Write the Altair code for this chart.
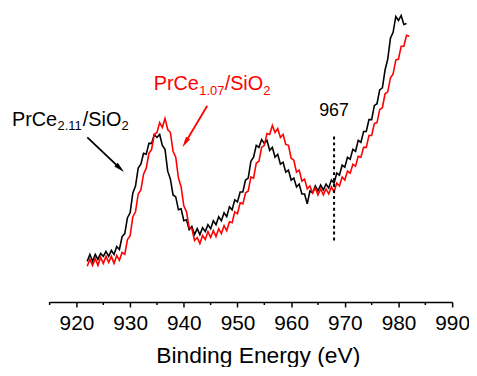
import altair as alt
import pandas as pd

# ---- data (intensity in arbitrary units) ----
E_START = 922.0
E_STEP = 0.5
black_counts = [41, 48, 41, 48, 43, 49, 46, 51, 46, 52,
                48, 56, 53, 66, 69, 85, 90, 110, 117, 135,
                139, 150, 149, 160, 160, 169, 166, 169, 158, 154,
                132, 124, 108, 106, 93, 94, 82, 83, 73, 76,
                68, 74, 68, 75, 71, 78, 74, 82, 78, 86,
                82, 90, 86, 96, 93, 103, 101, 111, 111, 123,
                125, 142, 146, 158, 156, 164, 160, 163, 153, 156,
                146, 149, 139, 141, 131, 133, 123, 125, 116, 119,
                109, 109, 99, 112, 110, 117, 112, 118, 113, 119,
                115, 123, 120, 130, 128, 138, 136, 146, 144, 154,
                152, 163, 161, 172, 172, 184, 184, 198, 200, 214,
                216, 234, 245, 266, 272, 288, 284, 289, 280, 281]
red_counts = [36, 43, 37, 44, 37, 45, 39, 46, 40, 46,
              39, 47, 42, 50, 48, 63, 67, 86, 91, 109,
              113, 129, 135, 150, 154, 169, 171, 181, 176, 185,
              174, 171, 152, 146, 125, 116, 97, 91, 75, 74,
              62, 65, 59, 67, 63, 71, 65, 72, 66, 74,
              69, 77, 72, 81, 80, 91, 89, 100, 99, 110,
              112, 126, 125, 140, 142, 156, 158, 170, 169, 178,
              171, 175, 166, 169, 159, 158, 145, 143, 131, 133,
              122, 124, 114, 117, 110, 115, 108, 114, 108, 114,
              109, 116, 111, 120, 117, 126, 123, 132, 130, 139,
              137, 147, 146, 156, 156, 168, 168, 180, 181, 194,
              196, 210, 212, 226, 230, 244, 245, 258, 258, 269,
              268]
black_energy = [E_START + E_STEP * i for i in range(len(black_counts))]
red_energy = [E_START + E_STEP * i for i in range(len(red_counts))]

major_ticks = [920, 930, 940, 950, 960, 970, 980, 990]
minor_ticks = [915, 925, 935, 945, 955, 965, 975, 985]
x_domain = [915, 990]
y_domain = [0, 295]

marker_energy = 968
marker_label = "967"
marker_span = [62, 170]

black_label_anchor = [907.98, 178]
red_label_anchor = [934.4, 214]
black_arrow = [922.02, 166, 928.12, 134.8]   # start E, I, head E, I
red_arrow = [944.37, 198, 940.27, 160.7]

W, H = 406, 295
FONT = "Liberation Sans"
BLACK = "#000000"
RED = "#ff0000"

x_enc = alt.X("E:Q", scale=alt.Scale(domain=x_domain, nice=False, zero=False),
              axis=alt.Axis(values=major_ticks, format="d", title="Binding Energy (eV)",
                            grid=False, domainColor=BLACK, domainWidth=1.5,
                            tickColor=BLACK, tickWidth=1.5, tickSize=5,
                            labelFont=FONT, labelFontSize=21, labelColor=BLACK,
                            labelBaseline="alphabetic", labelPadding=23,
                            labelFlush=False, labelOverlap=False,
                            titleFont=FONT, titleFontSize=23, titleFontWeight="normal",
                            titleColor=BLACK, titleX=210, titleY=61,
                            titleBaseline="alphabetic"))
y_enc = alt.Y("I:Q", scale=alt.Scale(domain=y_domain, nice=False, zero=False), axis=None)

black_df = pd.DataFrame({"E": black_energy, "I": black_counts})
red_df = pd.DataFrame({"E": red_energy, "I": red_counts})

black_line = alt.Chart(black_df).mark_line(color=BLACK, strokeWidth=1.6).encode(x=x_enc, y=y_enc)
red_line = alt.Chart(red_df).mark_line(color=RED, strokeWidth=1.6).encode(x=x_enc, y=y_enc)

minor = alt.Chart(pd.DataFrame({"E": minor_ticks})).mark_rule(color=BLACK, strokeWidth=1.5).encode(
    x=x_enc, y=alt.value(H), y2=alt.value(H + 3))

marker = alt.Chart(pd.DataFrame({"E": [marker_energy], "I": [marker_span[0]], "I2": [marker_span[1]]})).mark_rule(
    color=BLACK, strokeWidth=2, strokeDash=[3, 3]).encode(x=x_enc, y=y_enc, y2="I2:Q")

marker_text = alt.Chart(pd.DataFrame({"E": [marker_energy], "I": [188]})).mark_text(
    text=marker_label, font=FONT, fontSize=18, color=BLACK, align="center", baseline="alphabetic").encode(
    x=x_enc, y=y_enc)


def piece(anchor, text, color, size, dx, dy):
    return alt.Chart(pd.DataFrame({"E": [anchor[0]], "I": [anchor[1]]})).mark_text(
        text=text, font=FONT, fontSize=size, color=color, align="left",
        baseline="alphabetic", dx=dx, dy=dy).encode(x=x_enc, y=y_enc)


def label(anchor, sub, color):
    return [piece(anchor, "PrCe", color, 20, 0, 0),
            piece(anchor, sub, color, 13, 46, 5),
            piece(anchor, "/SiO", color, 20, 71.5, 0),
            piece(anchor, "2", color, 13, 110.4, 5)]


def arrow(a, color, angle):
    df = pd.DataFrame({"E": [a[0]], "I": [a[1]], "E2": [a[2]], "I2": [a[3]]})
    shaft = alt.Chart(df).mark_rule(color=color, strokeWidth=1.8).encode(
        x=x_enc, y=y_enc, x2="E2:Q", y2="I2:Q")
    head = alt.Chart(pd.DataFrame({"E": [a[2]], "I": [a[3]]})).mark_point(
        shape="M0,-1L0.45,1L-0.45,1Z", filled=True, size=121, angle=angle,
        color=color, opacity=1, strokeWidth=0).encode(x=x_enc, y=y_enc)
    return [shaft, head]


layers = [black_line, red_line, minor, marker, marker_text]
layers += label(black_label_anchor, "2.11", BLACK)
layers += label(red_label_anchor, "1.07", RED)
layers += arrow(black_arrow, BLACK, 133.4)
layers += arrow(red_arrow, RED, 210.8)

chart = alt.layer(*layers).properties(
    width=W, height=H,
    padding={"left": 42, "top": 0, "right": 17, "bottom": 64},
    autosize=alt.AutoSizeParams(type="none"),
    background="white",
).configure_view(stroke=None)

chart.save("out.html", embed_options={"renderer": "svg", "actions": False})
